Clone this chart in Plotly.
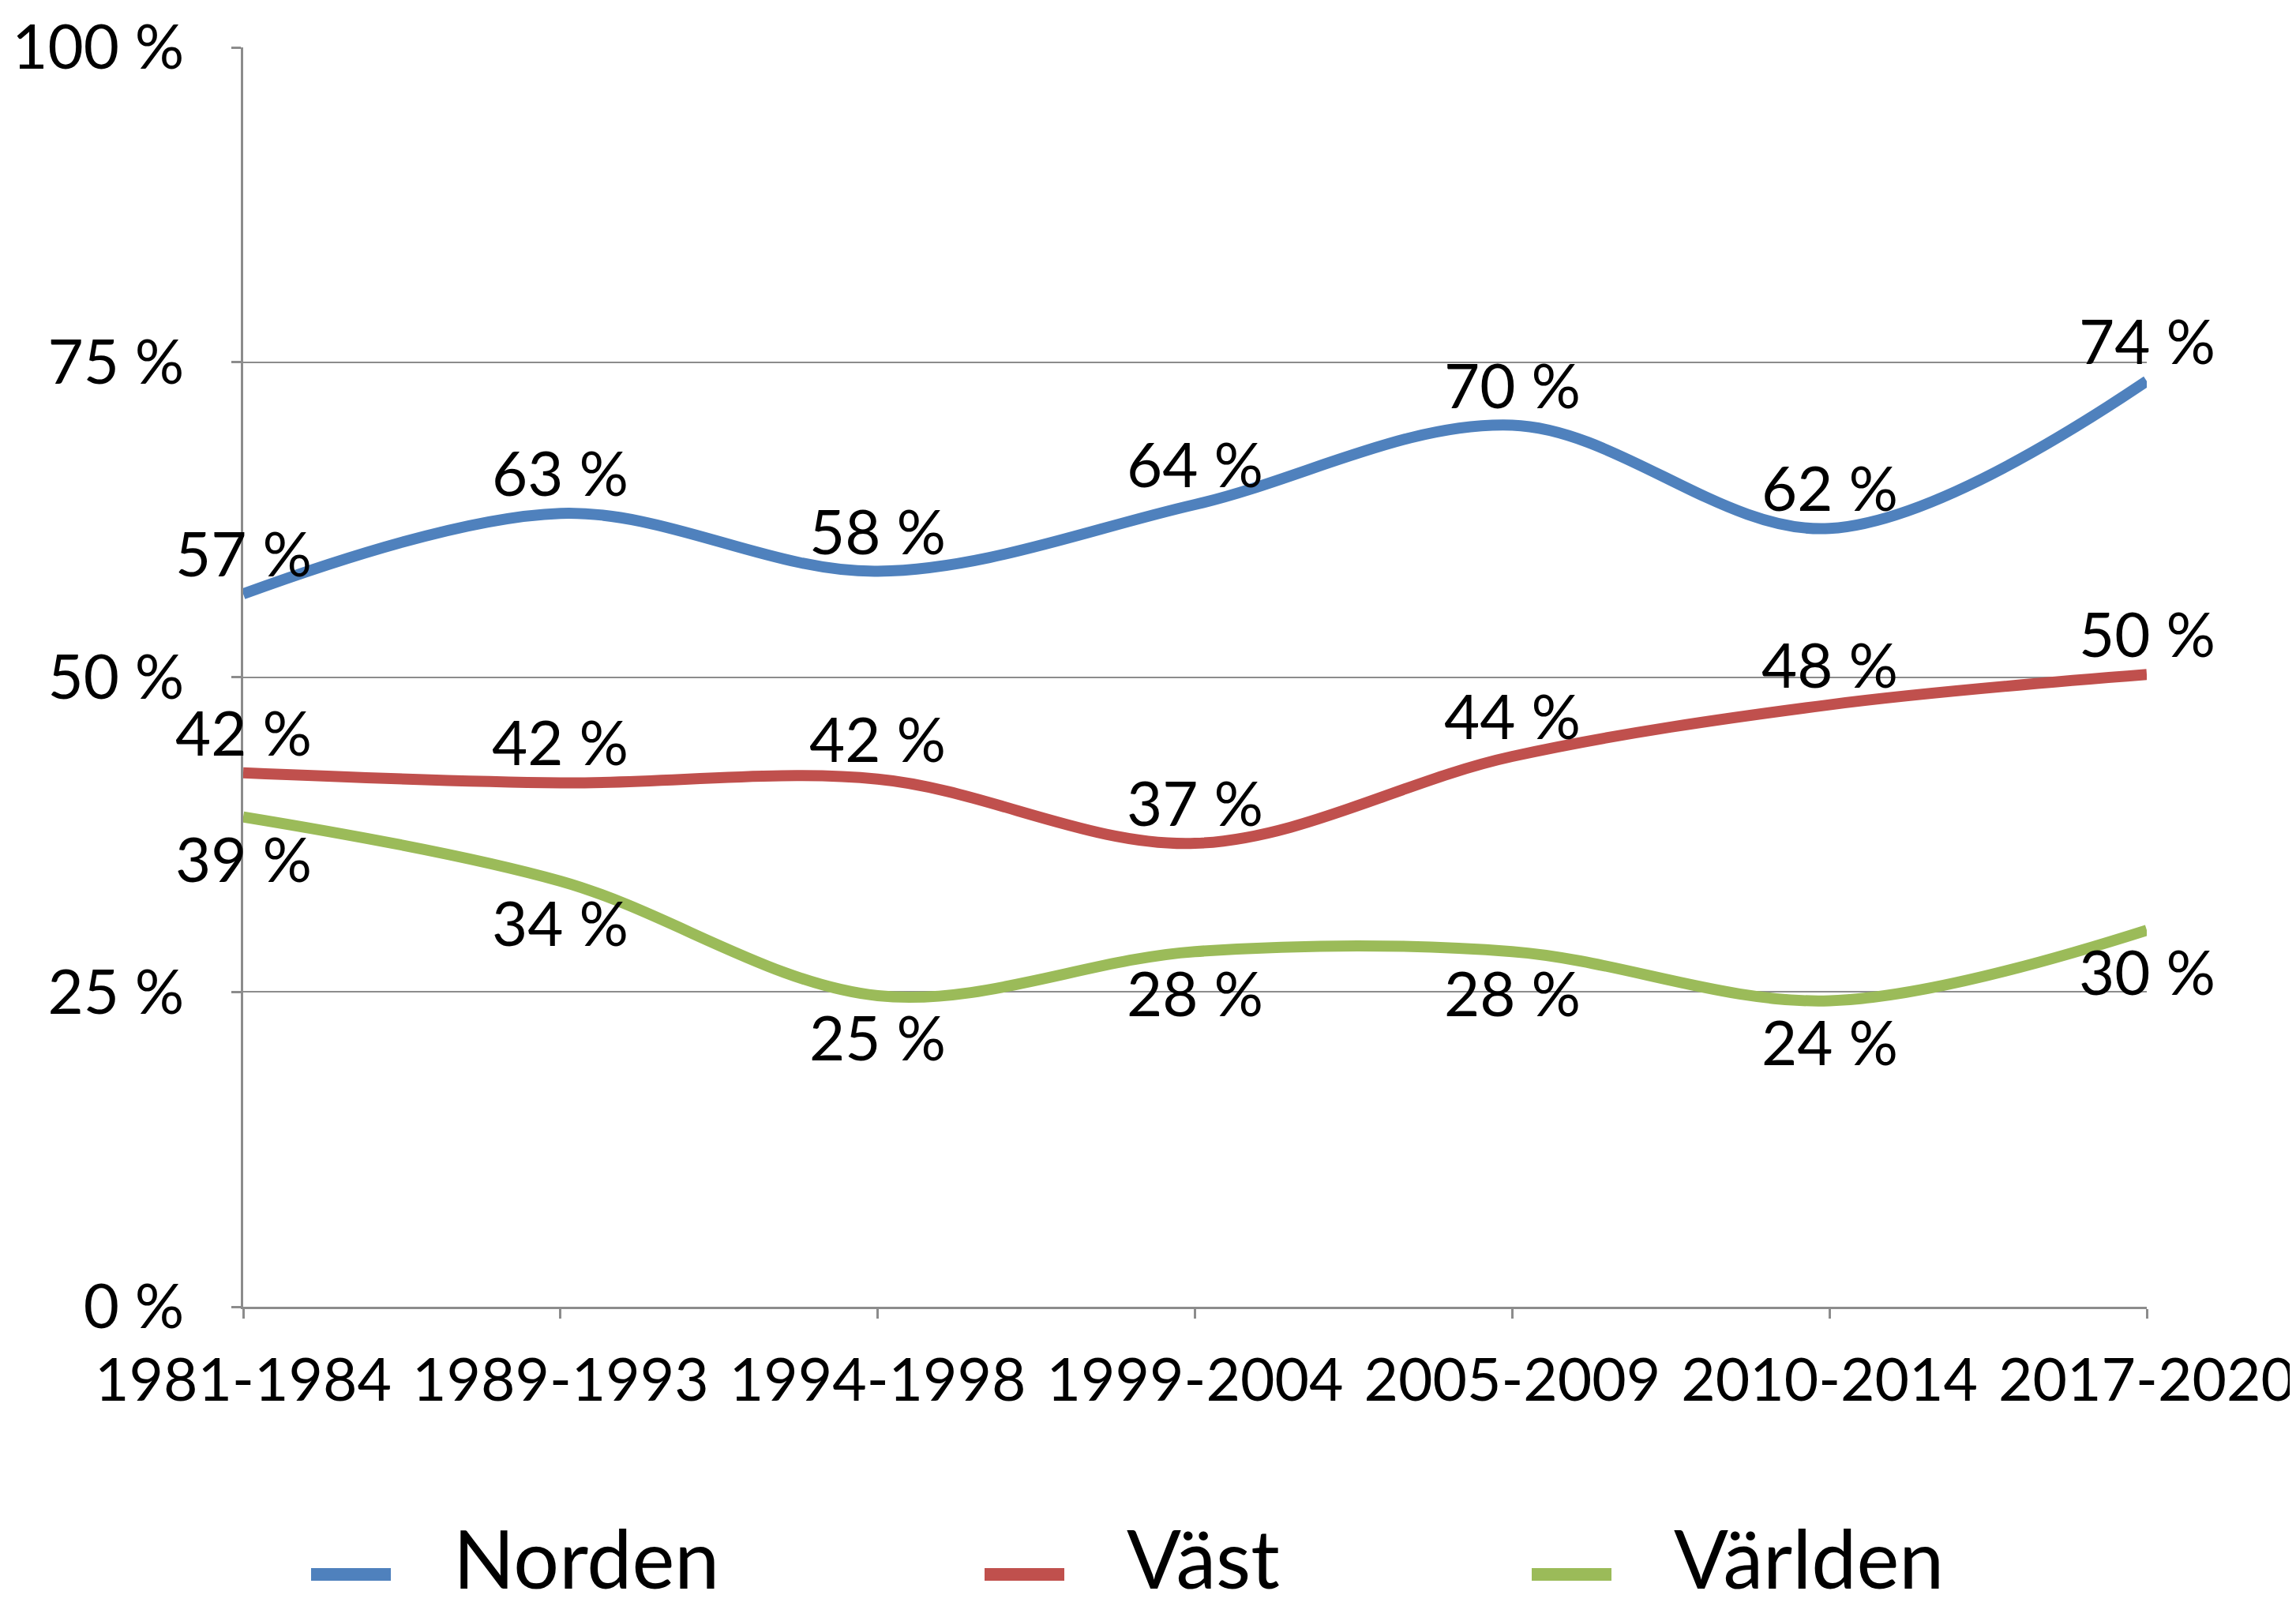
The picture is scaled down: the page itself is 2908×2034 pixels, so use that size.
import plotly.graph_objects as go

categories = ["1981-1984", "1989-1993", "1994-1998", "1999-2004", "2005-2009", "2010-2014", "2017-2020"]
norden = [56.6, 63.0, 58.4, 63.7, 70.0, 61.8, 73.5]
vast = [42.4, 41.6, 41.9, 36.8, 43.7, 47.8, 50.2]
varlden = [38.9, 33.8, 24.7, 28.2, 28.2, 24.3, 29.9]
y_ticks = [0, 25, 50, 75, 100]
y_tick_labels = [f"{t} %" for t in y_ticks]

series = [
    ("Norden", norden, "#4F81BD", 1),
    ("Väst", vast, "#C0504D", 1),
    ("Världen", varlden, "#9BBB59", -1),
]

W, H = 2908, 2034
ML, MR, MT, MB = 300, 197, 52, 387
PW, PH = W - ML - MR, H - MT - MB


def px_to_paper_x(px):
    return (px - ML) / PW


def px_to_paper_y(py):
    return (H - MB - py) / PH


FONT = "Lato, 'Open Sans', sans-serif"
fig = go.Figure()
annotations = []
shapes = []
legend_starts = [386, 1239, 1932]
legend_line_y = 1986
legend_text_y = 1964
for (name, vals, color, side), lx in zip(series, legend_starts):
    fig.add_trace(go.Scatter(
        x=categories, y=vals, name=name, mode="lines",
        line=dict(color=color, width=14, shape="spline", smoothing=1.0),
        hoverinfo="skip", showlegend=False,
    ))
    for c, v in zip(categories, vals):
        annotations.append(dict(
            x=c, y=v, xref="x", yref="y", text=f"{round(v)} %", showarrow=False,
            yshift=52 * side, yanchor="middle", xanchor="center",
            font=dict(family=FONT, size=78, color="black"),
        ))
    # legend entry (line sample + label)
    shapes.append(dict(
        type="line", xref="paper", yref="paper",
        x0=px_to_paper_x(lx), x1=px_to_paper_x(lx + 101),
        y0=px_to_paper_y(legend_line_y), y1=px_to_paper_y(legend_line_y),
        line=dict(color=color, width=16),
    ))
    annotations.append(dict(
        x=px_to_paper_x(lx + 178), y=px_to_paper_y(legend_text_y), xref="paper", yref="paper",
        text=name, showarrow=False, xanchor="left", yanchor="middle",
        font=dict(family=FONT, size=102, color="black"),
    ))

grid = "#8c8c8c"
fig.update_layout(
    width=W, height=H,
    margin=dict(l=ML, r=MR, t=MT, b=MB, autoexpand=False),
    paper_bgcolor="white", plot_bgcolor="white",
    font=dict(family=FONT, color="black"),
    annotations=annotations,
    shapes=shapes,
    showlegend=False,
    xaxis=dict(
        type="category", categoryorder="array", categoryarray=categories,
        range=[0, len(categories) - 1],
        showgrid=False, showline=True, linecolor=grid, linewidth=3,
        ticks="outside", ticklen=12, tickcolor=grid, tickwidth=3,
        tickfont=dict(family=FONT, size=75, color="black"),
        ticklabelstandoff=14, automargin=False,
    ),
    yaxis=dict(
        range=[0, 100], tickvals=y_ticks, ticktext=y_tick_labels,
        showgrid=True, gridcolor=grid, gridwidth=2,
        showline=True, linecolor=grid, linewidth=3,
        ticks="outside", ticklen=12, tickcolor=grid, tickwidth=3,
        tickfont=dict(family=FONT, size=78, color="black"),
        ticklabelstandoff=44, zeroline=False, automargin=False,
    ),
)

fig.write_html("out.html")
